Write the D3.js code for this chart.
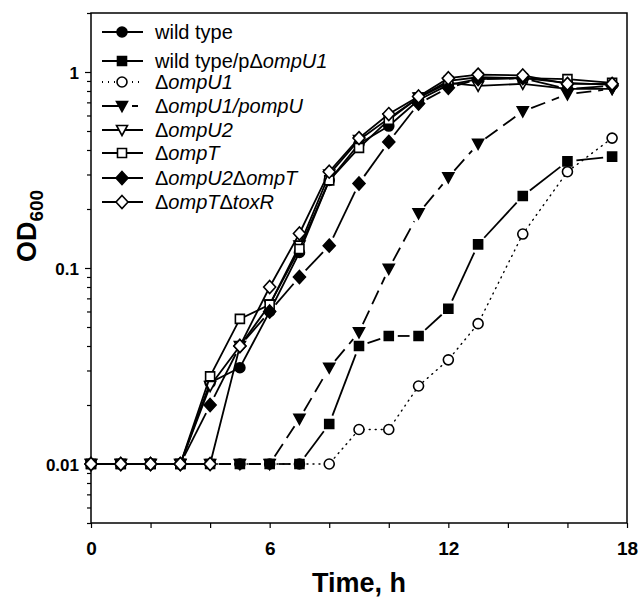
<!DOCTYPE html>
<html>
<head>
<meta charset="utf-8">
<script src="https://cdn.jsdelivr.net/npm/d3@7"></script>
<style>
  body { margin: 0; background: #fff; }
  svg text { font-family: "Liberation Sans", Arial, sans-serif; fill: #000; }
</style>
</head>
<body>
<div id="chart"></div>
<script>
// sampling times (h)
const hours = [0, 1, 2, 3, 4, 5, 6, 7, 8, 9, 10, 11, 12, 13, 14.5, 16, 17.5];

// OD600 per strain
const wildType      = [0.01, 0.01, 0.01, 0.01, 0.026, 0.031, 0.06, 0.12, 0.28, 0.43, 0.53, 0.72, 0.86, 0.92, 0.93, 0.88, 0.86];
const wildTypePdU1  = [0.01, 0.01, 0.01, 0.01, 0.01, 0.01, 0.01, 0.01, 0.016, 0.04, 0.045, 0.045, 0.062, 0.132, 0.233, 0.35, 0.37];
const dOmpU1        = [0.01, 0.01, 0.01, 0.01, 0.01, 0.01, 0.01, 0.01, 0.01, 0.015, 0.015, 0.025, 0.034, 0.052, 0.149, 0.31, 0.46];
const dOmpU1pOmpU   = [0.01, 0.01, 0.01, 0.01, 0.01, 0.01, 0.01, 0.017, 0.031, 0.047, 0.099, 0.19, 0.29, 0.43, 0.63, 0.77, 0.82];
const dOmpU2        = [0.01, 0.01, 0.01, 0.01, 0.025, 0.04, 0.065, 0.13, 0.3, 0.45, 0.58, 0.74, 0.88, 0.85, 0.87, 0.82, 0.82];
const dOmpT         = [0.01, 0.01, 0.01, 0.01, 0.028, 0.055, 0.065, 0.125, 0.28, 0.41, 0.57, 0.74, 0.9, 0.94, 0.93, 0.92, 0.88];
const dOmpU2dOmpT   = [0.01, 0.01, 0.01, 0.01, 0.02, 0.04, 0.06, 0.09, 0.13, 0.27, 0.44, 0.69, 0.83, 0.92, 0.93, 0.82, 0.85];
const dOmpTdToxR    = [0.01, 0.01, 0.01, 0.01, 0.01, 0.04, 0.08, 0.15, 0.31, 0.46, 0.61, 0.75, 0.93, 0.97, 0.96, 0.87, 0.87];

// legend labels: [text, italic]
const labels = [
  [["wild type", false]],
  [["wild type/p", false], ["\u0394", false], ["ompU1", true]],
  [["\u0394", false], ["ompU1", true]],
  [["\u0394", false], ["ompU1/pompU", true]],
  [["\u0394", false], ["ompU2", true]],
  [["\u0394", false], ["ompT", true]],
  [["\u0394", false], ["ompU2", true], ["\u0394", false], ["ompT", true]],
  [["\u0394", false], ["ompT", true], ["\u0394", false], ["toxR", true]]
];

const xTicks = [0, 2, 4, 6, 8, 10, 12, 14, 16, 18];
const xLabels = [0, 6, 12, 18];
const yLabels = [0.01, 0.1, 1];

const series = [
  { values: wildType,     shape: 'circle',  filled: true,  dash: null,    gap: 0 },
  { values: wildTypePdU1, shape: 'square',  filled: true,  dash: null,    gap: 4 },
  { values: dOmpU1,       shape: 'circle',  filled: false, dash: '1,5',   gap: 0 },
  { values: dOmpU1pOmpU,  shape: 'tri',     filled: true,  dash: '15,7',  gap: 4 },
  { values: dOmpU2,       shape: 'tri',     filled: false, dash: null,    gap: 0 },
  { values: dOmpT,        shape: 'square',  filled: false, dash: null,    gap: 0 },
  { values: dOmpU2dOmpT,  shape: 'diamond', filled: true,  dash: null,    gap: 4 },
  { values: dOmpTdToxR,   shape: 'diamond', filled: false, dash: null,    gap: 0 }
];
// order in which the series are painted (open circles sit underneath)
const drawOrder = [2, 0, 1, 3, 4, 5, 6, 7];

const width = 640, height = 601;
const margin = { top: 13, right: 13, bottom: 78, left: 91 };

const svg = d3.select('#chart').append('svg')
  .attr('width', width)
  .attr('height', height);

const x = d3.scaleLinear().domain([0, 18]).range([margin.left, width - margin.right]);
const y = d3.scaleLog().domain([0.005, 2]).range([height - margin.bottom, margin.top]);

// marker path, centred on 0,0
function markerPath(shape) {
  const p = d3.path();
  if (shape === 'circle') {
    p.arc(0, 0, 5, 0, 2 * Math.PI);
  } else if (shape === 'square') {
    p.rect(-4.5, -4.5, 9, 9);
  } else if (shape === 'tri') {
    p.moveTo(-5.5, -4.5); p.lineTo(5.5, -4.5); p.lineTo(0, 5.5); p.closePath();
  } else {
    p.moveTo(0, -6.5); p.lineTo(6, 0); p.lineTo(0, 6.5); p.lineTo(-6, 0); p.closePath();
  }
  return p.toString();
}

// axes
const xAxis = d3.axisBottom(x)
  .tickValues(xTicks)
  .tickSize(5)
  .tickFormat(d => xLabels.includes(d) ? d : '');

const gx = svg.append('g')
  .attr('class', 'x axis')
  .attr('transform', `translate(0,${height - margin.bottom})`)
  .call(xAxis);
gx.select('.domain').remove();
gx.selectAll('line').attr('stroke', '#000').attr('stroke-width', 1.2);
gx.selectAll('text')
  .attr('y', 19)
  .style('font-family', '"Liberation Sans Narrow", "Liberation Sans", Arial, sans-serif')
  .style('font-weight', 'bold')
  .style('font-size', '19px');

const yTicks = [];
[0.001, 0.01, 0.1, 1].forEach(dec => {
  for (let k = 1; k <= 9; k++) {
    const v = +(dec * k).toPrecision(3);
    if (v >= 0.005 && v <= 2) yTicks.push(v);
  }
});

const yAxis = d3.axisLeft(y)
  .tickValues(yTicks)
  .tickSize(4)
  .tickFormat(d => yLabels.includes(d) ? d : '');

const gy = svg.append('g')
  .attr('class', 'y axis')
  .attr('transform', `translate(${margin.left},0)`)
  .call(yAxis);
gy.select('.domain').remove();
gy.selectAll('line')
  .attr('stroke', '#000')
  .attr('stroke-width', 1.2)
  .attr('x2', d => yLabels.includes(d) ? -6 : -4);
gy.selectAll('text')
  .attr('x', -12)
  .attr('dy', '0.36em')
  .style('font-weight', 'bold')
  .style('font-size', '17px');

// frame
svg.append('rect')
  .attr('x', margin.left)
  .attr('y', margin.top)
  .attr('width', width - margin.left - margin.right)
  .attr('height', height - margin.top - margin.bottom)
  .attr('fill', 'none')
  .attr('stroke', '#000')
  .attr('stroke-width', 1.5);

// axis titles
svg.append('text')
  .attr('x', (x(0) + x(18)) / 2)
  .attr('y', 592)
  .attr('text-anchor', 'middle')
  .style('font-weight', 'bold')
  .style('font-size', '27px')
  .text('Time, h');

const yTitle = svg.append('text')
  .attr('transform', `translate(36,226) rotate(-90)`)
  .attr('text-anchor', 'middle')
  .style('font-weight', 'bold')
  .style('font-size', '27px');
yTitle.append('tspan').text('OD');
yTitle.append('tspan').attr('dy', 7).style('font-size', '19px').text('600');

// data series
const plot = svg.append('g');
drawOrder.forEach(idx => {
  const s = series[idx];
  const pts = hours.map((h, i) => [x(h), y(s.values[i])]);
  const g = plot.append('g');

  if (s.gap > 0) {
    // broken line stopping short of the symbols
    for (let i = 1; i < pts.length; i++) {
      const [x0, y0] = pts[i - 1], [x1, y1] = pts[i];
      const d = Math.hypot(x1 - x0, y1 - y0);
      if (d <= 2 * s.gap + 8) continue;
      const ux = (x1 - x0) / d, uy = (y1 - y0) / d;
      g.append('line')
        .attr('x1', x0 + ux * (s.gap + 5)).attr('y1', y0 + uy * (s.gap + 5))
        .attr('x2', x1 - ux * (s.gap + 5)).attr('y2', y1 - uy * (s.gap + 5))
        .attr('stroke', '#000')
        .attr('stroke-width', 1.8)
        .attr('stroke-dasharray', s.dash);
    }
  } else {
    g.append('path')
      .attr('d', d3.line()(pts))
      .attr('fill', 'none')
      .attr('stroke', '#000')
      .attr('stroke-width', s.dash === '1,5' ? 1.4 : 1.8)
      .attr('stroke-linecap', 'round')
      .attr('stroke-dasharray', s.dash);
  }

  g.selectAll('path.mark')
    .data(pts)
    .enter().append('path')
      .attr('class', 'mark')
      .attr('transform', d => `translate(${d[0]},${d[1]})`)
      .attr('d', markerPath(s.shape))
      .attr('fill', s.filled ? '#000' : '#fff')
      .attr('stroke', '#000')
      .attr('stroke-width', 1.6);
});

// legend
const legendRows = [32, 61, 82, 106, 130, 153, 178, 202];
const legend = svg.append('g');
series.forEach((s, i) => {
  const ly = legendRows[i];
  legend.append('line')
    .attr('x1', 102).attr('x2', 143)
    .attr('y1', ly).attr('y2', ly)
    .attr('stroke', '#000')
    .attr('stroke-width', 1.8)
    .attr('stroke-dasharray', s.dash === '15,7' ? '20,5,0,5,6' : s.dash);
  legend.append('path')
    .attr('transform', `translate(122,${ly})`)
    .attr('d', markerPath(s.shape))
    .attr('fill', s.filled ? '#000' : '#fff')
    .attr('stroke', '#000')
    .attr('stroke-width', 1.6);
  const t = legend.append('text')
    .attr('x', 155)
    .attr('y', ly + 7)
    .style('font-size', '20px');
  labels[i].forEach(([str, it]) => {
    t.append('tspan')
      .style('font-style', it ? 'italic' : 'normal')
      .text(str);
  });
});
</script>
</body>
</html>
